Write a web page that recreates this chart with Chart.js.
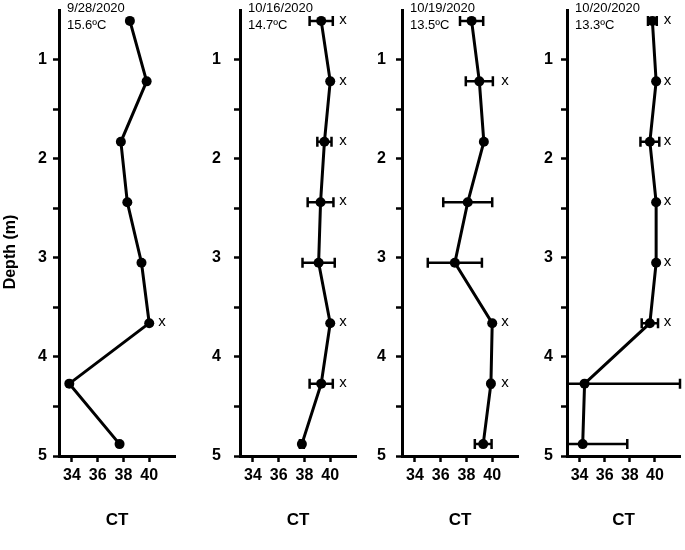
<!DOCTYPE html>
<html>
<head>
<meta charset="utf-8">
<script src="https://cdn.jsdelivr.net/npm/chart.js@4.4.0/dist/chart.umd.min.js"></script>
<style>
  body { margin: 0; background: #fff; }
  #wrap { position: relative; width: 685px; height: 550px; }
  canvas { position: absolute; top: 0; }
</style>
</head>
<body>
<div id="wrap"></div>
<script>
// depth of each sample (m)
const depths = [0.61, 1.22, 1.83, 2.44, 3.05, 3.66, 4.27, 4.88];

const dates = ["9/28/2020", "10/16/2020", "10/19/2020", "10/20/2020"];
const temps = ["15.6ºC", "14.7ºC", "13.5ºC", "13.3ºC"];

// CT values per sampling date
const ct0928 = [38.5, 39.8, 37.8, 38.3, 39.4, 40.0, 33.8, 37.7];
const ct1016 = [39.3, 40.0, 39.55, 39.25, 39.1, 40.0, 39.3, 37.8];
const ct1019 = [38.4, 39.0, 39.35, 38.1, 37.1, 40.0, 39.9, 39.3];
const ct1020 = [39.8, 40.1, 39.6, 40.1, 40.1, 39.6, 34.4, 34.25];

// +/- error (0 = no bar)
const err0928 = [0, 0, 0, 0, 0, 0, 0, 0];
const err1016 = [0.9, 0, 0.55, 1.0, 1.25, 0, 0.9, 0.15];
const err1019 = [0.9, 1.05, 0, 1.9, 2.1, 0, 0.1, 0.65];
const err1020 = [0.35, 0, 0.75, 0, 0, 0.65, 7.6, 3.55];

// "x" flags
const mark0928 = [0, 0, 0, 0, 0, 1, 0, 0];
const mark1016 = [1, 1, 1, 1, 0, 1, 1, 0];
const mark1019 = [0, 1, 0, 0, 0, 1, 1, 0];
const mark1020 = [1, 1, 1, 1, 1, 1, 0, 0];

const xTicks = [34, 36, 38, 40];
const yTicks = [1, 1.5, 2, 2.5, 3, 3.5, 4, 4.5, 5];

const series = [
  { ct: ct0928, err: err0928, mark: mark0928 },
  { ct: ct1016, err: err1016, mark: mark1016 },
  { ct: ct1019, err: err1019, mark: mark1019 },
  { ct: ct1020, err: err1020, mark: mark1020 },
];

// canvas placement for each panel
const panels = [
  { left: 0, w: 180, yw: 59, padR: 2, tp: 6 },
  { left: 185, w: 176, yw: 55, padR: 2, tp: 13 },
  { left: 362, w: 161, yw: 40, padR: 2, tp: 10 },
  { left: 525, w: 160, yw: 42, padR: 0, tp: 8 },
];

const FONT = "'Liberation Sans', Arial, sans-serif";

const errorBars = {
  id: "errorBars",
  beforeDatasetsDraw(chart, args, opts) {
    const { ctx, chartArea } = chart;
    const xs = chart.scales.x, ys = chart.scales.y;
    ctx.save();
    ctx.strokeStyle = "#000";
    ctx.lineWidth = 2.5;
    opts.ct.forEach((v, i) => {
      const e = opts.err[i];
      if (!e) return;
      const y = ys.getPixelForValue(depths[i]);
      let x1 = xs.getPixelForValue(v - e);
      const x2 = xs.getPixelForValue(v + e);
      const capL = x1 >= chartArea.left;
      if (!capL) x1 = chartArea.left;
      ctx.beginPath();
      ctx.moveTo(x1, y);
      ctx.lineTo(x2, y);
      if (capL) { ctx.moveTo(x1, y - 5); ctx.lineTo(x1, y + 5); }
      ctx.moveTo(x2, y - 5);
      ctx.lineTo(x2, y + 5);
      ctx.stroke();
    });
    ctx.restore();
  },
  afterDraw(chart, args, opts) {
    const { ctx, chartArea } = chart;
    const xs = chart.scales.x, ys = chart.scales.y;
    ctx.save();
    ctx.fillStyle = "#000";
    ctx.font = "15px " + FONT;
    ctx.textAlign = "center";
    ctx.textBaseline = "middle";
    opts.mark.forEach((m, i) => {
      if (!m) return;
      ctx.fillText("x", xs.getPixelForValue(41), ys.getPixelForValue(depths[i]) - 1);
    });
    ctx.font = "13px " + FONT;
    ctx.textAlign = "left";
    ctx.fillText(opts.date, chartArea.left + 8, 8);
    ctx.fillText(opts.temp, chartArea.left + 8, 25);
    // y axis title (only first panel), sits a bit below axis centre
    if (opts.yTitle) {
      ctx.font = "bold 16px " + FONT;
      ctx.textAlign = "center";
      ctx.translate(11, 252);
      ctx.rotate(-Math.PI / 2);
      ctx.fillText(opts.yTitle, 0, 0);
    }
    ctx.restore();
  }
};

const wrap = document.getElementById("wrap");

panels.forEach((p, k) => {
  const cv = document.createElement("canvas");
  cv.width = p.w;
  cv.height = 550;
  cv.style.left = p.left + "px";
  cv.style.width = p.w + "px";
  cv.style.height = "550px";
  wrap.appendChild(cv);

  const s = series[k];
  new Chart(cv.getContext("2d"), {
    type: "scatter",
    data: {
      datasets: [{
        data: s.ct.map((v, i) => ({ x: v, y: depths[i] })),
        showLine: true,
        borderColor: "#000",
        borderWidth: 3,
        backgroundColor: "#000",
        pointRadius: 5,
        pointBorderWidth: 0,
        pointHoverRadius: 5,
      }],
    },
    options: {
      responsive: false,
      animation: false,
      events: [],
      layout: { padding: { top: 10, bottom: 0, left: 0, right: p.padR } },
      plugins: {
        legend: { display: false },
        tooltip: { enabled: false },
        errorBars: {
          ct: s.ct, err: s.err, mark: s.mark,
          date: dates[k], temp: temps[k],
          yTitle: k === 0 ? "Depth (m)" : "",
        },
      },
      scales: {
        x: {
          type: "linear",
          min: 33,
          max: 42,
          afterBuildTicks: (sc) => { sc.ticks = xTicks.map((v) => ({ value: v })); },
          afterFit: (sc) => { sc.height = 94; sc.paddingLeft = 0; sc.paddingRight = 0; },
          grid: { drawOnChartArea: false, tickLength: 6, tickWidth: 2.5, tickColor: "#000" },
          border: { color: "#000", width: 3 },
          ticks: { color: "#000", padding: 4, autoSkip: false, maxRotation: 0, font: { family: FONT, size: 16, weight: "bold" } },
          title: { display: true, text: "CT", color: "#000", padding: { top: 0, bottom: 19 }, font: { family: FONT, size: 17, weight: "bold" } },
        },
        y: {
          type: "linear",
          reverse: true,
          min: 0.5,
          max: 5,
          afterBuildTicks: (sc) => { sc.ticks = yTicks.map((v) => ({ value: v })); },
          afterFit: (sc) => { sc.width = p.yw; sc.paddingTop = 0; sc.paddingBottom = 0; },
          grid: { drawOnChartArea: false, tickLength: 6, tickWidth: 2.5, tickColor: "#000" },
          border: { color: "#000", width: 3 },
          ticks: {
            color: "#000",
            padding: p.tp,
            autoSkip: false,
            font: { family: FONT, size: 16, weight: "bold" },
            callback: (v) => (Number.isInteger(v) ? v : ""),
          },
        },
      },
    },
    plugins: [errorBars],
  });
});
</script>
</body>
</html>
